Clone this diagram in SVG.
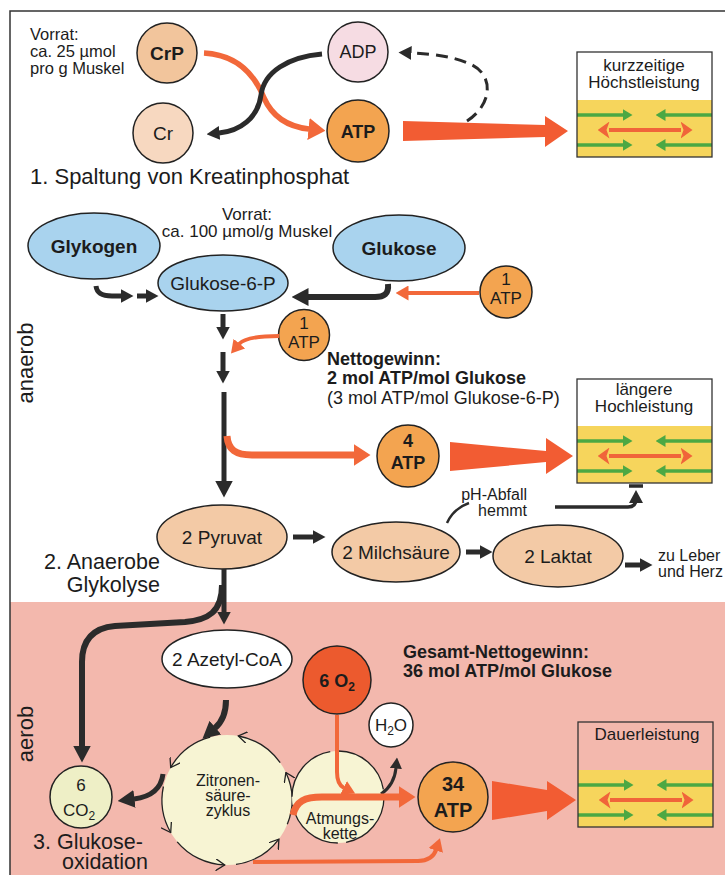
<svg xmlns="http://www.w3.org/2000/svg" width="725" height="875" viewBox="0 0 725 875">
<style>
text{font-family:"Liberation Sans",Arial,sans-serif;fill:#1c1c1c}
.m{text-anchor:middle}
.e{text-anchor:end}
.b{font-weight:bold}
.nd{stroke:#222;stroke-width:1.5}
.dk{fill:none;stroke:#2b2b2b;stroke-linecap:butt}
.or{fill:none;stroke:#f2683a}
.big{fill:#f25c33}
.cyc{fill:none;stroke:#222;stroke-width:1.3}
</style>
<defs>
<marker id="hB" markerUnits="userSpaceOnUse" markerWidth="17" markerHeight="18" viewBox="0 0 17 18" refX="0.5" refY="9" orient="auto"><path d="M0,0 L17,9 L0,18 z" fill="#2b2b2b"/></marker>
<marker id="hBs" markerUnits="userSpaceOnUse" markerWidth="13" markerHeight="14" viewBox="0 0 13 14" refX="0.5" refY="7" orient="auto"><path d="M0,0 L13,7 L0,14 z" fill="#2b2b2b"/></marker>
<marker id="hBx" markerUnits="userSpaceOnUse" markerWidth="11" markerHeight="12" viewBox="0 0 11 12" refX="0.5" refY="6" orient="auto"><path d="M0,0 L11,6 L0,12 z" fill="#2b2b2b"/></marker>
<marker id="hO" markerUnits="userSpaceOnUse" markerWidth="17" markerHeight="22" viewBox="0 0 17 22" refX="0.5" refY="11" orient="auto"><path d="M0,0 L17,11 L0,22 z" fill="#f2683a"/></marker>
<marker id="hOs" markerUnits="userSpaceOnUse" markerWidth="13" markerHeight="15" viewBox="0 0 13 15" refX="0.5" refY="7.5" orient="auto"><path d="M0,0 L13,7.5 L0,15 z" fill="#f2683a"/></marker>
<marker id="hG" markerUnits="userSpaceOnUse" markerWidth="10" markerHeight="12" viewBox="0 0 10 12" refX="0.5" refY="6" orient="auto"><path d="M0,0 L10,6 L0,12 z" fill="#4ca843"/></marker>
<marker id="hR" markerUnits="userSpaceOnUse" markerWidth="12" markerHeight="17" viewBox="0 0 12 17" refX="0.5" refY="8.5" orient="auto-start-reverse"><path d="M0,0 L12,8.5 L0,17 L3,8.5 z" fill="#f0643a"/></marker>
<marker id="chev" markerUnits="userSpaceOnUse" markerWidth="10" markerHeight="12" viewBox="0 0 10 12" refX="9" refY="6" orient="auto"><path d="M0,0 L9,6 L0,12" fill="none" stroke="#222" stroke-width="1.3"/></marker>
<g id="band">
<rect x="0" y="0" width="135" height="57" fill="#f6d55c"/>
<g stroke="#4ca843" stroke-width="3.5" fill="none">
<path d="M0,15 L46,15" marker-end="url(#hG)"/>
<path d="M135,15 L88,15" marker-end="url(#hG)"/>
<path d="M0,45 L46,45" marker-end="url(#hG)"/>
<path d="M135,45 L88,45" marker-end="url(#hG)"/>
</g>
<path d="M32,30 L104,30" stroke="#f0643a" stroke-width="4" fill="none" marker-start="url(#hR)" marker-end="url(#hR)"/>
</g>
</defs>

<rect x="0" y="0" width="725" height="875" fill="#ffffff"/>
<rect x="10" y="602" width="715" height="273" fill="#f3b8ad"/>
<path d="M10,875 L10,11 L725,11" fill="none" stroke="#333" stroke-width="1.5"/>

<!-- labels -->
<g id="labels">
<text x="30" y="40" font-size="16.5">Vorrat:</text>
<text x="30" y="57" font-size="16.5">ca. 25 µmol</text>
<text x="30" y="74" font-size="16.5">pro g Muskel</text>
<text x="30" y="184" font-size="22">1. Spaltung von Kreatinphosphat</text>
<text x="247" y="220" font-size="17" class="m">Vorrat:</text>
<text x="247" y="237" font-size="17" class="m">ca. 100 µmol/g Muskel</text>
<text x="327" y="365" font-size="18" class="b">Nettogewinn:</text>
<text x="327" y="384" font-size="18" class="b">2 mol ATP/mol Glukose</text>
<text x="327" y="404" font-size="18">(3 mol ATP/mol Glukose-6-P)</text>
<text transform="translate(33,363) rotate(-90)" font-size="22" class="m">anaerob</text>
<text x="527" y="500" font-size="16" class="e">pH-Abfall</text>
<text x="527" y="516" font-size="16" class="e">hemmt</text>
<text x="658" y="561" font-size="16">zu Leber</text>
<text x="658" y="577" font-size="16">und Herz</text>
<text x="160" y="569" font-size="21.5" class="e">2. Anaerobe</text>
<text x="160" y="592" font-size="21.5" class="e">Glykolyse</text>
<text x="403" y="658" font-size="18" class="b">Gesamt-Nettogewinn:</text>
<text x="403" y="677" font-size="18" class="b">36 mol ATP/mol Glukose</text>
<text transform="translate(33,734) rotate(-90)" font-size="22" class="m">aerob</text>
<text x="33" y="849" font-size="21.5">3. Glukose-</text>
<text x="148" y="869" font-size="21.5" class="e">oxidation</text>
</g>

<!-- nodes -->
<g id="CrP"><circle cx="167" cy="53" r="30" fill="#f2c59c" class="nd"/><text x="167" y="60" font-size="19" class="m b">CrP</text></g>
<g id="Cr"><circle cx="163" cy="133" r="30" fill="#f7d8c0" class="nd"/><text x="163" y="140" font-size="19" class="m">Cr</text></g>
<g id="ADP"><circle cx="358" cy="52" r="30" fill="#f6dce3" class="nd"/><text x="358" y="58" font-size="18" class="m">ADP</text></g>
<g id="ATP"><circle cx="358" cy="131" r="31" fill="#f3a450" class="nd"/><text x="358" y="138" font-size="18" class="m b">ATP</text></g>
<g id="box1"><use href="#band" x="577" y="100"/><rect x="577" y="52" width="135" height="105" fill="none" stroke="#333" stroke-width="1.3"/><text x="644" y="71" font-size="17" class="m">kurzzeitige</text><text x="644" y="88" font-size="17" class="m">Höchstleistung</text></g>

<g id="Glykogen"><ellipse cx="94" cy="246" rx="66" ry="33" fill="#a9d3ee" class="nd"/><text x="94" y="253" font-size="19" class="m b">Glykogen</text></g>
<g id="G6P"><ellipse cx="223" cy="283" rx="65" ry="28" fill="#a9d3ee" class="nd"/><text x="223" y="290" font-size="19" class="m">Glukose-6-P</text></g>
<g id="Glukose"><ellipse cx="399" cy="248" rx="66" ry="33" fill="#a9d3ee" class="nd"/><text x="399" y="255" font-size="19" class="m b">Glukose</text></g>
<g id="ATP1a"><circle cx="506" cy="292" r="26" fill="#f3a450" class="nd"/><text x="506" y="285" font-size="17" class="m">1</text><text x="506" y="304" font-size="17" class="m">ATP</text></g>
<g id="ATP1b"><circle cx="304" cy="335" r="25.5" fill="#f3a450" class="nd"/><text x="304" y="329" font-size="17" class="m">1</text><text x="304" y="348" font-size="17" class="m">ATP</text></g>
<g id="ATP4"><circle cx="408" cy="456" r="31" fill="#f3a450" class="nd"/><text x="408" y="447" font-size="18" class="m b">4</text><text x="408" y="469" font-size="18" class="m b">ATP</text></g>
<g id="box2"><use href="#band" x="577" y="426"/><rect x="577" y="379" width="135" height="104" fill="none" stroke="#333" stroke-width="1.3"/><text x="644" y="395" font-size="17" class="m">längere</text><text x="644" y="412" font-size="17" class="m">Hochleistung</text></g>
<g id="Pyruvat"><ellipse cx="222" cy="537" rx="65" ry="32" fill="#f3caa6" class="nd"/><text x="222" y="544" font-size="19" class="m">2 Pyruvat</text></g>
<g id="Milchsaeure"><ellipse cx="396" cy="552" rx="64" ry="30" fill="#f3caa6" class="nd"/><text x="396" y="559" font-size="19" class="m">2 Milchsäure</text></g>
<g id="Laktat"><ellipse cx="558" cy="556" rx="65" ry="31" fill="#f3caa6" class="nd"/><text x="558" y="563" font-size="19" class="m">2 Laktat</text></g>

<g id="Azetyl"><ellipse cx="227" cy="659" rx="65" ry="29" fill="#ffffff" class="nd"/><text x="227" y="666" font-size="19" class="m">2 Azetyl-CoA</text></g>
<g id="O2"><circle cx="337" cy="680" r="34" fill="#ec5a2e" class="nd"/><text x="337" y="687" font-size="18" class="m b">6 O<tspan font-size="12" dy="4">2</tspan></text></g>
<g id="H2O"><circle cx="391" cy="725" r="22" fill="#ffffff" class="nd"/><text x="391" y="731" font-size="17" class="m">H<tspan font-size="12" dy="4">2</tspan><tspan dy="-4">O</tspan></text></g>
<g id="Zitronen">
<circle cx="227" cy="800" r="65" fill="#f7f4d3"/>
<g class="cyc">
<path d="M280.2,762.7 A65,65 0 0 0 238.3,736" marker-end="url(#chev)"/>
<path d="M210.2,737.2 A65,65 0 0 0 170.7,767.5" marker-end="url(#chev)"/>
<path d="M163.4,786.5 A65,65 0 0 0 170.7,832.5" marker-end="url(#chev)"/>
<path d="M177.2,841.8 A65,65 0 0 0 224.7,865" marker-end="url(#chev)"/>
<path d="M236,864.4 A65,65 0 0 0 278.9,839.1" marker-end="url(#chev)"/>
<path d="M287.3,824.3 A65,65 0 0 0 285.9,772.5" marker-end="url(#chev)"/>
</g>
<text x="228" y="786" font-size="16" class="m">Zitronen-</text>
<text x="228" y="801" font-size="16" class="m">säure-</text>
<text x="228" y="816" font-size="16" class="m">zyklus</text>
</g>
<g id="Atmungskette"><circle cx="338" cy="797" r="46" fill="#f7f4d3" stroke="#222" stroke-width="1.3" stroke-dasharray="64 8.3"/><text x="340" y="824" font-size="16" class="m">Atmungs-</text><text x="340" y="839" font-size="16" class="m">kette</text></g>
<g id="ATP34"><circle cx="453" cy="797" r="35" fill="#f3a450" class="nd"/><text x="453" y="791" font-size="20" class="m b">34</text><text x="453" y="817" font-size="20" class="m b">ATP</text></g>
<g id="CO2"><circle cx="81" cy="797" r="31" fill="#eeefc6" class="nd"/><text x="81" y="791" font-size="17" class="m">6</text><text x="79" y="816" font-size="17" class="m">CO<tspan font-size="12" dy="4">2</tspan></text></g>
<g id="box3"><use href="#band" x="578" y="770"/><rect x="578" y="722" width="135" height="105" fill="none" stroke="#333" stroke-width="1.3"/><text x="647" y="740" font-size="17" class="m">Dauerleistung</text></g>

<!-- connectors -->
<g id="connectors">
<path class="or" stroke-width="5.5" d="M204,53 C240,55 256,78 264,98 C273,118 290,127 309,129" marker-end="url(#hO)"/>
<path class="dk" stroke-width="5" d="M322,54 C288,57 264,72 261,95 C258,118 240,131 219,133" marker-end="url(#hBs)"/>
<path class="dk" stroke-width="3" stroke-dasharray="12 7" d="M467,121 C492,105 495,75 470,64 C455,57 435,54 411,53" marker-end="url(#hBs)"/>
<polygon class="big" points="403,121 545,125 545,116 568,131 545,147 545,137 403,141"/>

<path class="dk" stroke-width="5" d="M96,286 C97,294 103,296 112,296 L121,296" marker-end="url(#hBs)"/>
<path class="dk" stroke-width="5" d="M137,296 L146,296" marker-end="url(#hBs)"/>
<path class="dk" stroke-width="6" d="M388,284 C389,294 384,297 375,297 L308,297" marker-end="url(#hB)"/>
<path class="or" stroke-width="4" d="M479,293 L408,293" marker-end="url(#hOs)"/>
<path class="dk" stroke-width="5" d="M223,314 L223,327" marker-end="url(#hBs)"/>
<path class="or" stroke-width="4" d="M279,336 C258,336 244,338 239,344" marker-end="url(#hOs)"/>
<path class="dk" stroke-width="5" d="M223,352 L223,371" marker-end="url(#hBs)"/>
<path class="dk" stroke-width="5" d="M224,392 L224,481" marker-end="url(#hB)"/>
<path class="or" stroke-width="7" d="M227,436 C228,450 236,455 252,455 L354,455" marker-end="url(#hO)"/>
<polygon class="big" points="450,442 546,451 546,438 573,456 546,474 546,462 450,471"/>
<path class="dk" stroke-width="5" d="M293,537 L313,537" marker-end="url(#hBs)"/>
<path class="dk" stroke-width="5" d="M466,552 L480,552" marker-end="url(#hBs)"/>
<path class="dk" stroke-width="5" d="M625,565 L640,565" marker-end="url(#hBs)"/>
<path class="dk" stroke-width="2.5" d="M469,503 C458,507 451,514 447,523"/>
<path class="dk" stroke-width="3.5" d="M555,507 L628,507 C634,507 636,504 636,499"/>
<polygon points="629,503 643,503 636,490" fill="#2b2b2b"/>
<path class="dk" stroke-width="3.5" d="M629,486 L643,486"/>

<path class="dk" stroke-width="5" d="M224,569 L224,612" marker-end="url(#hBs)"/>
<path class="dk" stroke-width="6" d="M222,585 C222,612 208,620 185,622 L115,626 C93,628 82,640 82,662 L82,746" marker-end="url(#hB)"/>
<path class="dk" stroke-width="6" d="M226,700 C226,714 222,722 215,728" marker-end="url(#hB)"/>
<path class="dk" stroke-width="5" d="M163,774 C161,790 150,797 134,799" marker-end="url(#hB)"/>
<path class="dk" stroke-width="3" d="M381,794 C390,788 395,778 396,768" marker-end="url(#hBx)"/>
<path class="or" stroke-width="4" d="M337,715 L337,772 C337,781 340,786 344,788" marker-end="url(#hOs)"/>
<path class="or" stroke-width="7" d="M293,815 C296,801 305,797 322,797 L399,797" marker-end="url(#hO)"/>
<path class="or" stroke-width="4" d="M253,862 L418,861 C428,861 434,856 436,850" marker-end="url(#hOs)"/>
<polygon class="big" points="492,781 547,790 547,781 576,800 547,820 547,811 492,820"/>
</g>
</svg>
